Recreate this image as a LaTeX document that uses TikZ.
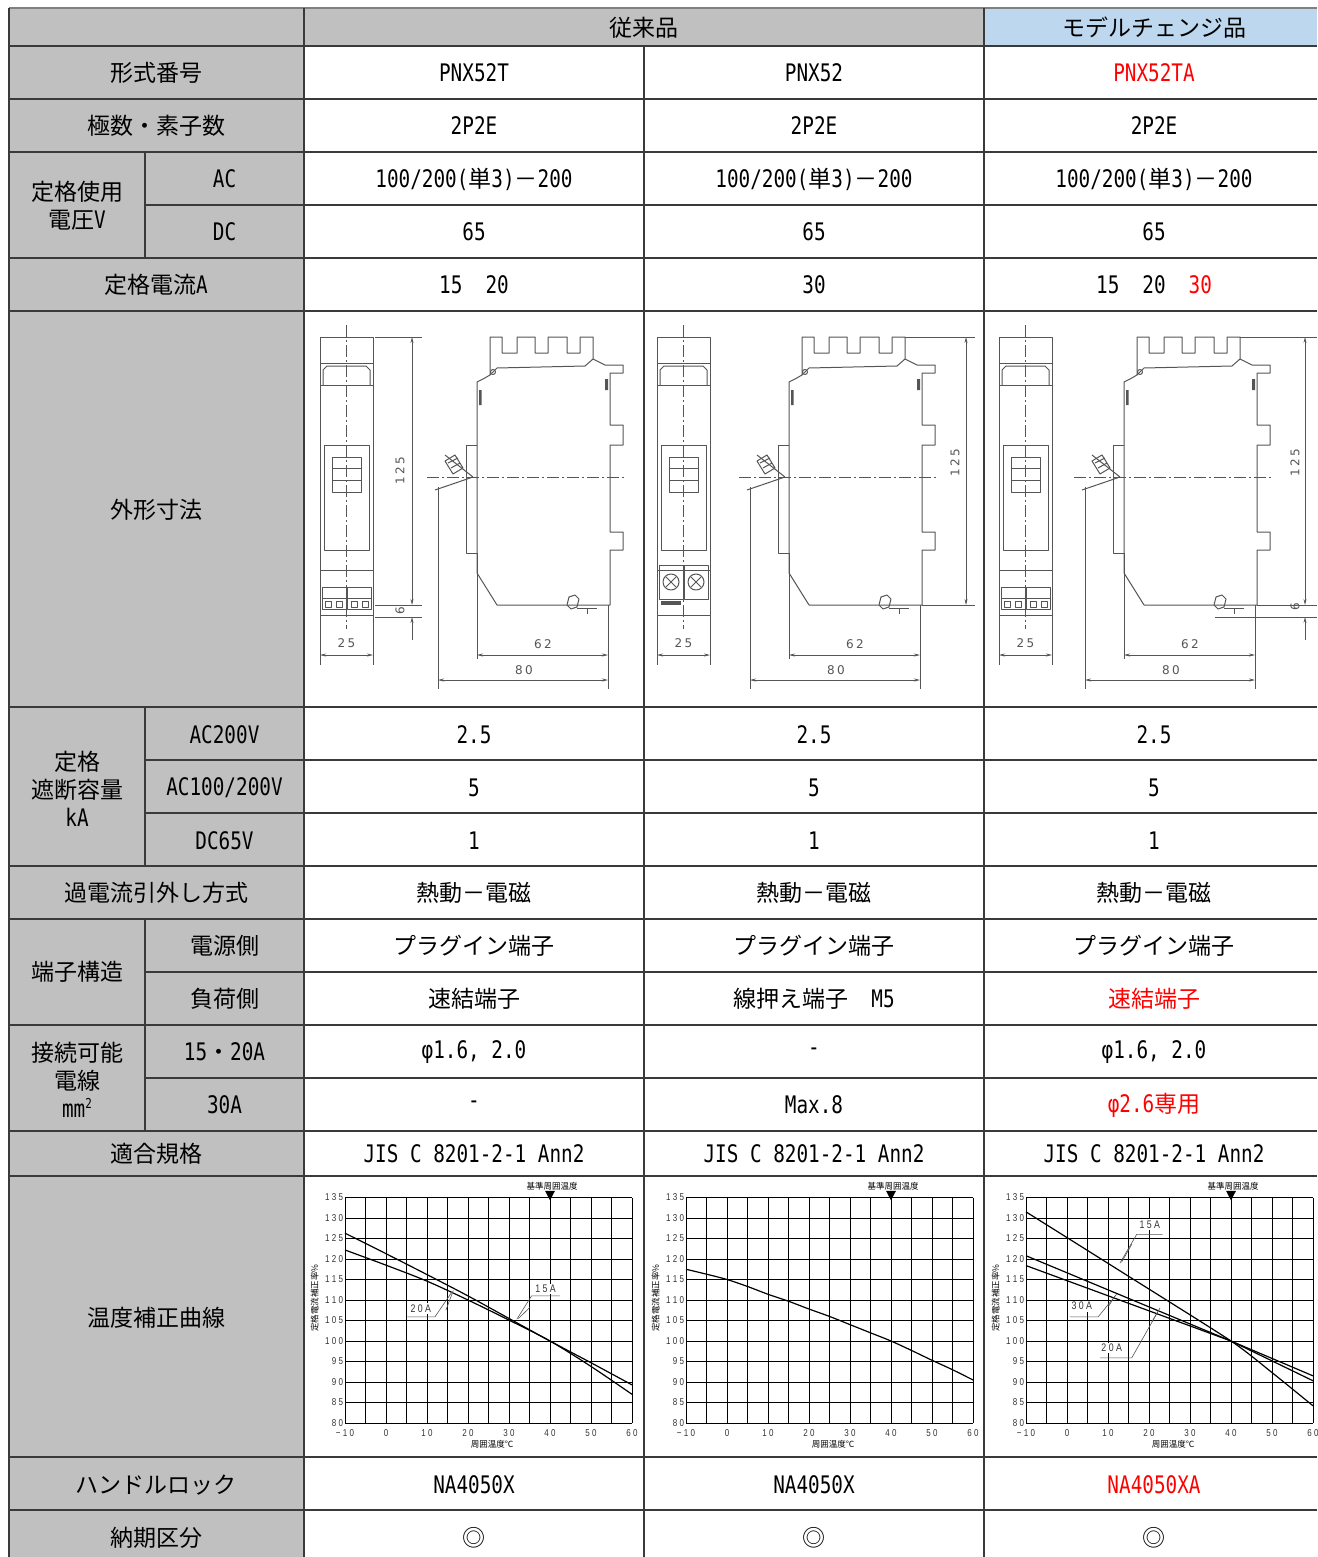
\documentclass[tikz,border=0pt]{standalone}
\usepackage{fontspec}
\setmainfont{Noto Sans CJK JP}
\newfontfamily\latn[FakeStretch=0.8,Scale=1.05]{DejaVu Sans Mono}
\newfontfamily\dimfont{DejaVu Sans}
\newfontfamily\tkfont[FakeStretch=0.8]{Liberation Sans}
\usetikzlibrary{arrows.meta}
\definecolor{lgray}{HTML}{C0C0C0}
\definecolor{hblue}{HTML}{BDD7EE}
\definecolor{lnc}{HTML}{3A3A3A}
\definecolor{drw}{HTML}{555555}
\newcommand\mfs{\fontsize{23}{28}\selectfont}
\def\spd#1{\spdi#1\relax}
\def\spdi#1#2{#1\ifx\relax#2\else\kern2.4pt\expandafter\spdi\expandafter#2\fi}
\tikzset{
  ln/.style={draw=lnc, line width=1.3pt},
  lnb/.style={draw=gray, line width=1.8pt},
  tx/.style={inner sep=0pt, font=\mfs, align=center},
  chg/.style={text=red},
  dr/.style={draw=drw, line width=1pt, line join=round},
  dimln/.style={draw=drw, line width=0.7pt},
  dimarr/.style={draw=drw, line width=0.7pt, {Stealth[length=6pt,width=3pt]}-{Stealth[length=6pt,width=3pt]}},
  onearr/.style={draw=drw, line width=0.7pt, -{Stealth[length=6pt,width=3pt]}},
  cl/.style={draw=drw, line width=0.8pt, dash pattern=on 12pt off 3pt on 2pt off 3pt},
  dimt/.style={inner sep=0pt, text=drw, font=\dimfont\fontsize{12}{12}\selectfont},
  gl/.style={draw=black, line width=0.6pt},
  cv/.style={draw=black, line width=1.2pt},
  ldr/.style={draw=drw, line width=0.6pt},
  tk/.style={inner sep=0pt, font=\tkfont\fontsize{10}{10}\selectfont, text=black!80},
  lbl/.style={inner sep=1.5pt, fill=white, font=\tkfont\fontsize{11}{11}\selectfont, text=black!80},
  jsm/.style={inner sep=0pt, font=\fontsize{8.5}{9}\selectfont},
}
\newcommand\frontview[2]{%
\begin{scope}[shift={(#1,337)}]
\draw[dr] (0,0) rectangle (53,278);
\draw[dr] (0,26)--(53,26) (0,48)--(53,48);
\draw[dr] (3,48)--(3,33)--(7,29)--(46,29)--(50,33)--(50,48);
\draw[dr] (4,108) rectangle (49,213);
\draw[dr] (12,120) rectangle (41,155) (12,131)--(41,131) (12,143)--(41,143);
\draw[dr] (0,233)--(53,233);
\ifnum#2=1
 \draw[dr] (2,250) rectangle (26,272) (27,250) rectangle (51,272);
 \draw[dr] (2,261)--(51,261);
 \draw[dr] (5,264) rectangle (11,270) (16,264) rectangle (22,270) (31,264) rectangle (37,270) (42,264) rectangle (48,270);
\else
 \draw[dr] (2,228) rectangle (26,262) (27,228) rectangle (51,262);
 \draw[dr] (14,245) circle (8) (39,245) circle (8);
 \draw[dr] (9,240)--(19,250) (9,250)--(19,240) (34,240)--(44,250) (34,250)--(44,240);
 \fill[drw] (4,264) rectangle (24,268);
\fi
\draw[cl] (26.5,-12)--(26.5,292);
\draw[dimln] (0,278)--(0,328) (53,278)--(53,328);
\draw[dimarr] (0,318)--(53,318);
\node[dimt] (fv#1) at (26.5,306) {\spd{25}};
\end{scope}}
\newcommand\sideview[1]{%
\begin{scope}[shift={(#1,337)}]
\draw[dr] (133,36)--(146,36)--(146,28)--(128,28)--(116,22)--(116,0)--(103,0)--(103,16)--(90,16)--(90,0)--(71,0)--(71,16)--(58,16)--(58,0)--(40,0)--(40,16)--(25,16)--(25,0)--(13,0)--(13,38)--(6,42)--(0,45)--(0,236)--(20,268)--(133,268)--(133,213)--(146,213)--(146,195)--(133,195)--(133,108)--(146,108)--(146,88)--(133,88)--cycle;
\draw[dr] (13,38)--(20,31)--(108,29)--(116,22);
\draw[dr] (16,35) circle (2.5);
\fill[drw] (2,53) rectangle (4.5,68) (128,42) rectangle (131,53);
\draw[dr] (0,108)--(-11,108)--(-11,216)--(0,216);
\draw[dr] (-4,140)--(-32,118) (-4,140)--(-42,153);
\draw[dr] (-32,124)--(-22,118)--(-14,131)--(-24,137)--cycle (-29,126)--(-19,121) (-26,131)--(-17,126);
\draw[dr] (90,268)--(92,260)--(98,258)--(102,262)--(100,270)--(94,272)--cycle;
\draw[dr] (100,271)--(120,271) (110,271)--(110,277);
\draw[cl] (-50,140)--(148,140);
\draw[dimln] (0,216)--(0,322) (131,268)--(131,352) (-39,150)--(-39,352);
\draw[dimarr] (0,318)--(131,318);
\draw[dimarr] (-39,343)--(131,343);
\node[dimt] (sva#1) at (66,307) {\spd{62}};
\node[dimt] (svb#1) at (47,333) {\spd{80}};
\end{scope}}
\newcommand\drawchart[1]{%
\begin{scope}[shift={(#1,1423)},x=4.1pt,y=4.1pt]
\foreach \i in {0,5,...,70} {\draw[gl] (\i,0)--(\i,55);}
\foreach \j in {0,5,...,55} {\draw[gl] (0,\j)--(70,\j);}
\foreach \v/\t in {0/80,5/85,10/90,15/95,20/100,25/105,30/110,35/115,40/120,45/125,50/130,55/135}
  {\node[tk,anchor=east] (cy#1n\v) at (-0.4,\v) {\expandafter\spd\expandafter{\t}};}
\foreach \v/\t in {0/−10,10/0,20/10,30/20,40/30,50/40,60/50,70/60}
  {\node[tk] (cx#1n\v) at (\v,-2.4) {\expandafter\spd\expandafter{\t}};}
\node[jsm] (cref#1) at (50.5,57.8) {基準周囲温度};
\fill[black] (50,54.3)--(48.8,56.6)--(51.2,56.6)--cycle;
\node[jsm,rotate=90] (cyl#1) at (-7.4,30.5) {定格電流補正率\%};
\node[jsm] (cxl#1) at (35.9,-5.1) {周囲温度℃};
\end{scope}}

\begin{document}
\begin{tikzpicture}[x=1pt,y=-1pt]
\useasboundingbox (0,0) rectangle (1317,1557);
\fill[white] (0,0) rectangle (1317,1557);
% fills
\fill[lgray] (9,8) rectangle (984,46);
\fill[hblue] (984,8) rectangle (1317,46);
\fill[lgray] (9,46) rectangle (304,1557);
% drawings
\frontview{320}{1}
\sideview{477}
\draw[dimln] (375,337)--(422,337) (375,605)--(422,605) (375,617)--(422,617);
\draw[dimarr] (412,337)--(412,605);
\draw[onearr] (412,640)--(412,617);
\node[dimt,rotate=90] (d125a) at (400,471) {\spd{125}};
\node[dimt,rotate=90] (d6a) at (400,611) {6};
\frontview{657}{2}
\sideview{789}
\draw[dimln] (905,337)--(975,337) (922,605)--(975,605);
\draw[dimarr] (966,337)--(966,605);
\node[dimt,rotate=90] (d125b) at (955,463) {\spd{125}};
\frontview{999}{1}
\sideview{1124}
\draw[dimln] (1240,337)--(1317,337) (1257,605)--(1317,605) (1215,617)--(1317,617);
\draw[dimarr] (1305,337)--(1305,605);
\draw[onearr] (1305,640)--(1305,617);
\node[dimt,rotate=90] (d125c) at (1295,463) {\spd{125}};
\node[dimt,rotate=90] (d6c) at (1295,607) {6};
% charts
\drawchart{345}
\begin{scope}[shift={(345,1423)},x=4.1pt,y=4.1pt]
\draw[cv] plot[smooth] coordinates {(0,46.3) (10,41.3) (20,36.2) (30,31) (40,25.5) (50,20) (60,14.7) (70,9.3)};
\draw[cv] plot[smooth] coordinates {(0,42.2) (10,38.5) (20,34.6) (30,30) (40,25.1) (50,20) (60,13.8) (70,7)};
\node[lbl] (p1a) at (18.5,27.9) {\spd{20A}};
\draw[ldr] (15.2,25.9)--(21.95,25.9)--(26.1,32.0);
\draw[ldr] (24.6,27.5)--(26.4,32.3);
\node[lbl] (p1b) at (48.9,32.7) {\spd{15A}};
\draw[ldr] (52.4,31.0)--(45.5,31.0)--(41.9,25.3);
\draw[ldr] (45.1,28.2)--(42.3,25.5);
\end{scope}
\drawchart{686}
\begin{scope}[shift={(686,1423)},x=4.1pt,y=4.1pt]
\draw[cv] plot[smooth] coordinates {(0,37.5) (5,36.3) (10,35) (15,33.3) (20,31.4) (25,29.7) (30,27.8) (35,26) (40,24) (45,22) (50,20) (55,17.7) (60,15.3) (65,13) (70,10.5)};
\end{scope}
\drawchart{1026}
\begin{scope}[shift={(1026,1423)},x=4.1pt,y=4.1pt]
\draw[cv] plot[smooth,tension=0.4] coordinates {(0,51.5) (25,35.8) (50,20) (60,12.3) (70,4.2)};
\draw[cv] (0,40.8)--(50,20)--(70,10.3);
\draw[cv] (0,38.4)--(50,20)--(70,11.5);
\node[lbl] (p3a) at (30.2,48.4) {\spd{15A}};
\draw[ldr] (33.3,46.0)--(27.0,46.0)--(22.9,39.0);
\draw[ldr] (25.8,43.6)--(23.3,39.2);
\node[lbl] (p3b) at (13.6,28.5) {\spd{30A}};
\draw[ldr] (10.7,25.9)--(17.6,25.9)--(22.1,31.4);
\draw[ldr] (20.1,28.4)--(21.7,31.0);
\node[lbl] (p3c) at (20.9,18.3) {\spd{20A}};
\draw[ldr] (18.0,15.9)--(25.8,15.9)--(32.7,28.1);
\draw[ldr] (30.7,24.7)--(32.4,27.6);
\end{scope}
% table lines
\foreach \y in {46,99,152,258,311,707,866,919,1025,1131,1176,1457,1510}
  {\draw[ln] (9,\y)--(1317,\y);}
\foreach \y in {205,760,813,972,1078}
  {\draw[ln] (145,\y)--(1317,\y);}
\draw[lnb] (9,8)--(1317,8);
\draw[ln] (9,8)--(9,1557);
\draw[ln] (304,8)--(304,1557);
\draw[ln] (644,46)--(644,1557);
\draw[ln] (984,8)--(984,1557);
\draw[ln] (145,152)--(145,258) (145,707)--(145,866) (145,919)--(145,1131);
% header
\node[tx] (h1) at (644,28) {従来品};
\node[tx] (h2) at (1154,28) {モデルチェンジ品};
% row 1
\node[tx] (l1) at (156,73) {形式番号};
\node[tx] (a1) at (474,73) {\latn PNX52T};
\node[tx] (b1) at (814,73) {\latn PNX52};
\node[tx,chg] (c1) at (1154,73) {\latn PNX52TA};
% row 2
\node[tx] (l2) at (156,126) {極数・素子数};
\node[tx] (a2) at (474,126) {\latn 2P2E};
\node[tx] (b2) at (814,126) {\latn 2P2E};
\node[tx] (c2) at (1154,126) {\latn 2P2E};
% rows 3-4
\node[tx] (g34) at (77,206) {定格使用\\電圧{\latn V}};
\node[tx] (l3) at (224.5,179) {\latn AC};
\node[tx] (l4) at (224.5,232) {\latn DC};
\node[tx] (a3) at (474,179) {{\latn 100/200(}単{\latn 3)}－{\latn 200}};
\node[tx] (b3) at (814,179) {{\latn 100/200(}単{\latn 3)}－{\latn 200}};
\node[tx] (c3) at (1154,179) {{\latn 100/200(}単{\latn 3)}－{\latn 200}};
\node[tx] (a4) at (474,232) {\latn 65};
\node[tx] (b4) at (814,232) {\latn 65};
\node[tx] (c4) at (1154,232) {\latn 65};
% row 5
\node[tx] (l5) at (156,285) {定格電流{\latn A}};
\node[tx] (a5) at (474,285) {{\latn 15}　{\latn 20}};
\node[tx] (b5) at (814,285) {\latn 30};
\node[tx] (c5) at (1154,285) {{\latn 15}　{\latn 20}　\textcolor{red}{\latn 30}};
% row 6
\node[tx] (l6) at (156,510) {外形寸法};
% rows 7-9
\node[tx] (g79) at (77,789) {定格\\遮断容量\\{\latn kA}};
\node[tx] (l7) at (224.5,735) {\latn AC200V};
\node[tx] (l8) at (224.5,788) {\latn AC100/200V};
\node[tx] (l9) at (224.5,841) {\latn DC65V};
\node[tx] (a7) at (474,735) {\latn 2.5};
\node[tx] (b7) at (814,735) {\latn 2.5};
\node[tx] (c7) at (1154,735) {\latn 2.5};
\node[tx] (a8) at (474,788) {\latn 5};
\node[tx] (b8) at (814,788) {\latn 5};
\node[tx] (c8) at (1154,788) {\latn 5};
\node[tx] (a9) at (474,841) {\latn 1};
\node[tx] (b9) at (814,841) {\latn 1};
\node[tx] (c9) at (1154,841) {\latn 1};
% row 10
\node[tx] (l10) at (156,893) {過電流引外し方式};
\node[tx] (a10) at (474,893) {熱動－電磁};
\node[tx] (b10) at (814,893) {熱動－電磁};
\node[tx] (c10) at (1154,893) {熱動－電磁};
% rows 11-12
\node[tx] (g1112) at (77,972) {端子構造};
\node[tx] (l11) at (224.5,946) {電源側};
\node[tx] (l12) at (224.5,999) {負荷側};
\node[tx] (a11) at (474,946) {プラグイン端子};
\node[tx] (b11) at (814,946) {プラグイン端子};
\node[tx] (c11) at (1154,946) {プラグイン端子};
\node[tx] (a12) at (474,999) {速結端子};
\node[tx] (b12) at (814,999) {線押え端子　{\latn M5}};
\node[tx,chg] (c12) at (1154,999) {速結端子};
% rows 13-14
\node[tx] (g1314) at (77,1080) {接続可能\\電線\\{\latn mm}\raisebox{9pt}{\fontsize{13}{13}\selectfont\latn 2}};
\node[tx] (l13) at (224.5,1052) {{\latn 15}・{\latn 20A}};
\node[tx] (l14) at (224.5,1105) {\latn 30A};
\node[tx] (a13) at (474,1052) {\latn φ1.6, 2.0};
\node[tx] (b13) at (814,1052) {\latn -};
\node[tx] (c13) at (1154,1052) {\latn φ1.6, 2.0};
\node[tx] (a14) at (474,1105) {\latn -};
\node[tx] (b14) at (814,1105) {\latn Max.8};
\node[tx,chg] (c14) at (1154,1105) {{\latn φ2.6}専用};
% row 15
\node[tx] (l15) at (156,1154) {適合規格};
\node[tx] (a15) at (474,1154) {\latn JIS C 8201-2-1 Ann2};
\node[tx] (b15) at (814,1154) {\latn JIS C 8201-2-1 Ann2};
\node[tx] (c15) at (1154,1154) {\latn JIS C 8201-2-1 Ann2};
% row 16
\node[tx] (l16) at (156,1318) {温度補正曲線};
% row 17
\node[tx] (l17) at (156,1485) {ハンドルロック};
\node[tx] (a17) at (474,1485) {\latn NA4050X};
\node[tx] (b17) at (814,1485) {\latn NA4050X};
\node[tx,chg] (c17) at (1154,1485) {\latn NA4050XA};
% row 18
\node[tx] (l18) at (156,1538) {納期区分};
\node[tx] (a18) at (474,1538) {◎};
\node[tx] (b18) at (814,1538) {◎};
\node[tx] (c18) at (1154,1538) {◎};
\end{tikzpicture}
\end{document}
